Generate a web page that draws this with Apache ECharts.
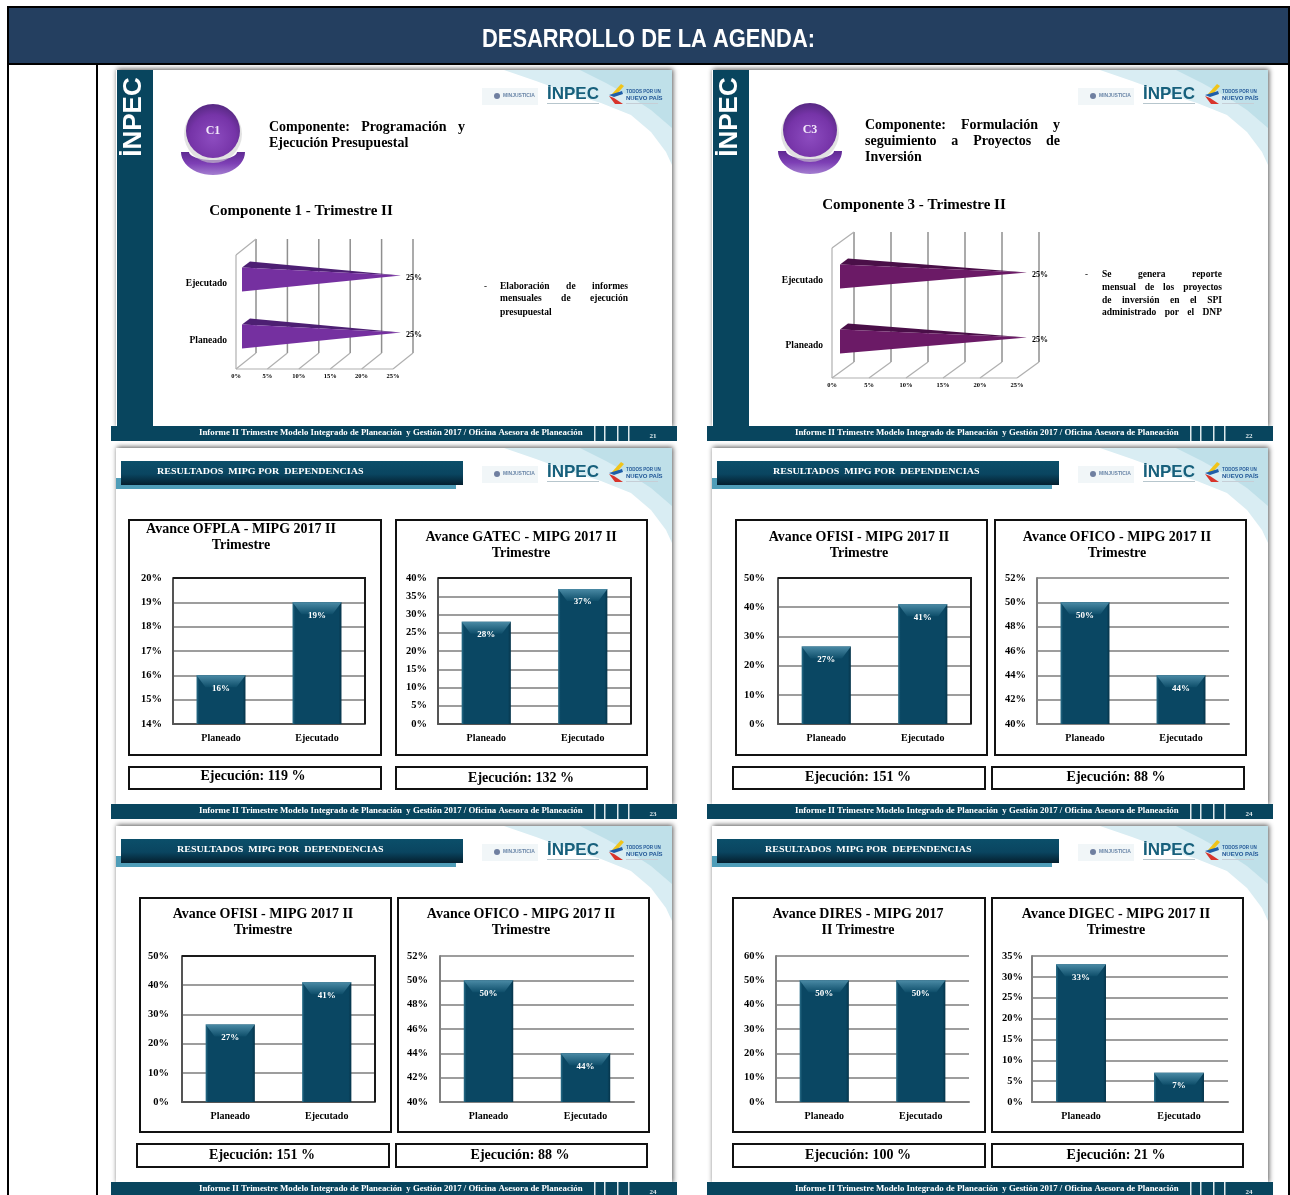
<!DOCTYPE html>
<html>
<head>
<meta charset="utf-8">
<title>Desarrollo de la agenda</title>
<script src="https://cdn.jsdelivr.net/npm/echarts@6/dist/echarts.min.js"></script>
<style>
  html, body { margin: 0; padding: 0; background: #fff; }
  #frame, #slides { position: absolute; left: 0; top: 0; width: 1290px; height: 1195px; }
  /* la referencia es una captura borrosa de diapositivas */
  #slides { filter: blur(0.6px); }
</style>
</head>
<body>
<div id="frame"></div>
<div id="slides"></div>
<script>
const categories = ["Planeado", "Ejecutado"];
const ofplaValues = [16, 19];
const gatecValues = [28, 37];
const ofisiValues = [26.5, 41];
const oficoValues = [50, 44];
const diresValues = [50, 50];
const digecValues = [33, 7];
const comp1Values = [25, 25];
const comp3Values = [25, 25];
const compTicks = [0, 5, 10, 15, 20, 25];

const SERIF = '"Liberation Serif", serif';
const SANS = '"Liberation Sans", sans-serif';
const TEAL = "#08455e";
const INK = "#000";
const FOOTER_TEXT = "Informe II Trimestre Modelo Integrado de Planeación  y Gestión 2017 / Oficina Asesora de Planeación";

let grid = [], xAxis = [], yAxis = [], series = [], els = [];
let measure = document.createElement("canvas").getContext("2d");

function rect(x, y, w, h, style, z) {
  els.push({ type: "rect", z: z || 0, shape: { x: x, y: y, width: w, height: h }, style: style, silent: true });
}
function poly(points, fill, z) {
  els.push({ type: "polygon", z: z || 0, shape: { points: points }, style: { fill: fill }, silent: true });
}
function txt(text, x, y, font, fill, align, rotation, scaleX) {
  els.push({
    type: "text", z: 1, x: x, y: y, rotation: rotation || 0, scaleX: scaleX || 1, silent: true,
    style: { text: text, font: font, fill: fill || INK, textAlign: align || "left", textVerticalAlign: "middle" },
  });
}
// texto justificado: reparte el espacio sobrante entre las palabras
function justify(words, x0, x1, y, font) {
  measure.font = font;
  let widths = words.map((w) => measure.measureText(w).width);
  let total = widths.reduce((a, b) => a + b, 0);
  let gap = (x1 - x0 - total) / (words.length - 1);
  let x = x0;
  words.forEach((w, i) => {
    txt(w, x, y, font);
    x += widths[i] + gap;
  });
}
function box(x0, y0, x1, y1) {
  rect(x0, y0, x1 - x0, y1 - y0, { fill: "#fff", stroke: "#111", lineWidth: 2 });
}

function slideBase(ox, oy, pageNo) {
  rect(ox, oy, 556, 358, { fill: "#fff", shadowBlur: 5, shadowColor: "#555", shadowOffsetX: 1, shadowOffsetY: -1 });
  poly([[ox + 388, oy], [ox + 420, oy + 11], [ox + 450, oy + 22], [ox + 485, oy + 33], [ox + 515, oy + 45], [ox + 535, oy + 62], [ox + 550, oy + 82], [ox + 556, oy + 95], [ox + 556, oy]], "#d9edf3");
  poly([[ox + 464, oy], [ox + 490, oy + 13], [ox + 515, oy + 27], [ox + 535, oy + 40], [ox + 556, oy + 58], [ox + 556, oy]], "#bfe0e9");
  // logos
  rect(ox + 366, oy + 18, 56, 17, { fill: "#f1f6f8" });
  els.push({ type: "circle", shape: { cx: ox + 381, cy: oy + 26, r: 3 }, style: { fill: "#6f7fa0" }, silent: true });
  txt("MINJUSTICIA", ox + 387, oy + 26, "bold 5px " + SANS, "#6a86a8");
  txt("İNPEC", ox + 431, oy + 24, "bold 17px " + SANS, "#17607c");
  rect(ox + 431, oy + 33, 52, 1, { fill: "#b7c6cd" });
  poly([[ox + 505, oy + 14], [ox + 496, oy + 24], [ox + 500, oy + 25], [ox + 508, oy + 16]], "#f0c419", 1);
  poly([[ox + 493, oy + 25], [ox + 506, oy + 21], [ox + 507, oy + 24], [ox + 498, oy + 27]], "#1f5ea8", 1);
  poly([[ox + 493, oy + 26], [ox + 498, oy + 28], [ox + 507, oy + 34], [ox + 499, oy + 34]], "#d8342b", 1);
  txt("TODOS POR UN", ox + 510, oy + 22, "bold 4.5px " + SANS, "#1f5596");
  txt("NUEVO PAÍS", ox + 510, oy + 28, "bold 6px " + SANS, "#1f5596");
  rect(ox + 510, oy + 33, 32, 1, { fill: "#c6ced6" });
  // pie de la diapositiva
  rect(ox - 5, oy + 356, 566, 15, { fill: TEAL }, 1);
  txt(FOOTER_TEXT, ox + 83, oy + 363, "bold 8.8px " + SERIF, "#fff");
  [478, 488, 501, 512].forEach((d) => rect(ox + d, oy + 356, 1.5, 15, { fill: "#dfe9ec" }, 1));
  txt(pageNo, ox + 537, oy + 366, "bold 7px " + SERIF, "#dfe9ec", "center");
}

function sidebar(ox, oy) {
  rect(ox + 1, oy, 36, 357, { fill: TEAL });
  txt("İNPEC", ox + 18, oy + 47, "bold 26px " + SANS, "#fff", "center", Math.PI / 2);
}

function sphere(cx, cy, label) {
  let outer = [], inner = [];
  for (let i = 0; i <= 24; i++) {
    let a = (Math.PI * i) / 24;
    outer.push([cx + 32 * Math.cos(a), cy + 21 + 23 * Math.sin(a)]);
    inner.unshift([cx + 24 * Math.cos(a), cy + 21 + 8 * Math.sin(a)]);
  }
  els.push({
    type: "polygon", silent: true, shape: { points: outer.concat(inner) },
    style: { fill: new echarts.graphic.LinearGradient(0, 0, 0, 1, [{ offset: 0, color: "#5f2a92" }, { offset: 0.5, color: "#7d3fb5" }, { offset: 1, color: "#a47fd0" }]) },
  });
  els.push({ type: "circle", silent: true, shape: { cx: cx, cy: cy + 3, r: 29 }, style: { fill: "#cfcfcf", opacity: 0.6 } });
  els.push({
    type: "circle", silent: true, shape: { cx: cx, cy: cy, r: 27 },
    style: { fill: new echarts.graphic.RadialGradient(0.5, 0.62, 0.6, [{ offset: 0, color: "#8d4cc0" }, { offset: 0.7, color: "#7634a8" }, { offset: 1, color: "#5a2a86" }]) },
  });
  txt(label, cx, cy, "bold 12px " + SERIF, "#f2e9fa", "center");
}

function banner(ox, oy, textX) {
  rect(ox, oy + 30, 340, 11, { fill: "#4f9db8" });
  rect(ox + 5, oy + 13, 342, 24, {
    fill: new echarts.graphic.LinearGradient(0, 0, 0, 1, [{ offset: 0, color: "#0b4f6a" }, { offset: 0.55, color: "#0a4560" }, { offset: 1, color: "#041f2e" }]),
  });
  txt("RESULTADOS  MIPG POR  DEPENDENCIAS", textX, oy + 24, "bold 8.5px " + SERIF, "#fff", "left", 0, 1.18);
}

// panel de barras: marco, titulo, caja de ejecucion y ejes
function barPanel(p) {
  box(p.box[0], p.box[1], p.box[2], p.box[3]);
  box(p.exec[0], p.exec[1], p.exec[2], p.exec[3]);
  p.title.forEach((t, i) => txt(t, p.titleX, p.titleY + i * 16, "bold 14px " + SERIF, INK, "center"));
  txt(p.execText, p.execX, p.execY, "bold 14px " + SERIF, INK, "center");
  let axisColor = p.border ? "#555" : "#808080";
  let idx = grid.length;
  grid.push({ left: p.plot[0], top: p.plot[1], width: p.plot[2] - p.plot[0], height: p.plot[3] - p.plot[1] });
  if (p.border) {
    // borde oscuro superior y derecho del area de trazado
    els.push({
      type: "polyline", z: 6, silent: true,
      shape: { points: [[p.plot[0], p.plot[1]], [p.plot[2], p.plot[1]], [p.plot[2], p.plot[3]]] },
      style: { stroke: "#1a1a1a", lineWidth: 2, fill: "none" },
    });
  }
  xAxis.push({
    type: "category", gridIndex: idx, data: categories,
    axisLine: { lineStyle: { color: axisColor, width: 2 } }, axisTick: { show: false },
    axisLabel: { fontFamily: "Liberation Serif", fontWeight: "bold", fontSize: 10, color: INK, margin: 9 },
  });
  yAxis.push({
    type: "value", gridIndex: idx, min: p.min, max: p.max, interval: p.step,
    axisLine: { show: true, lineStyle: { color: axisColor, width: 2 } }, axisTick: { show: false },
    splitLine: { lineStyle: { color: "#7c7c7c", width: 1.5 } },
    axisLabel: { formatter: "{value}%", fontFamily: "Liberation Serif", fontWeight: "bold", fontSize: 10.5, color: INK, margin: p.margin },
  });
  series.push({
    type: "bar", xAxisIndex: idx, yAxisIndex: idx, data: p.values, barWidth: "51%", z: 3, silent: true,
    itemStyle: {
      color: new echarts.graphic.LinearGradient(0, 0, 1, 0, [
        { offset: 0, color: "#2b6f8a" }, { offset: 0.05, color: "#0a4763" },
        { offset: 0.94, color: "#0a4763" }, { offset: 1, color: "#06344a" },
      ]),
    },
  });
  series.push({
    type: "custom", xAxisIndex: idx, yAxisIndex: idx, z: 4, silent: true, clip: false,
    data: p.values.map((v, i) => [i, v]), encode: { x: 0, y: 1 },
    renderItem: (params, api) => {
      let pt = api.coord([api.value(0), api.value(1)]);
      let w = api.size([1, 0])[0] * 0.51;
      let l = pt[0] - w / 2, r = pt[0] + w / 2, t = pt[1];
      return {
        type: "group",
        children: [
          {
            type: "polygon", shape: { points: [[l, t], [r, t], [r - 9, t + 12], [l + 9, t + 12]] },
            style: { fill: new echarts.graphic.LinearGradient(0, 0, 0, 1, [{ offset: 0, color: "#4a8aa5" }, { offset: 1, color: "#0e4e6a" }]) },
          },
          {
            type: "text",
            style: {
              x: pt[0], y: t + 13, text: Math.round(api.value(1)) + "%", fill: "#fff",
              font: "bold 9px " + SERIF, textAlign: "center", textVerticalAlign: "middle",
            },
          },
        ],
      };
    },
  });
}

// grafico de cuñas horizontales con pared y piso en perspectiva
function wedgePanel(p) {
  let idx = grid.length;
  grid.push({ left: p.plot[0], top: p.plot[1], width: p.plot[2] - p.plot[0], height: p.plot[3] - p.plot[1] });
  xAxis.push({
    type: "value", gridIndex: idx, min: 0, max: 25, interval: 5,
    axisLine: { show: false }, axisTick: { show: false }, splitLine: { show: false },
    axisLabel: { formatter: "{value}%", fontFamily: "Liberation Serif", fontWeight: "bold", fontSize: 6.5, color: INK, margin: 4 },
  });
  yAxis.push({
    type: "category", gridIndex: idx, data: categories,
    axisLine: { show: false }, axisTick: { show: false },
    axisLabel: { fontFamily: "Liberation Serif", fontWeight: "bold", fontSize: 9.5, color: INK, margin: 9 },
  });
  series.push({
    type: "custom", xAxisIndex: idx, yAxisIndex: idx, z: 2, silent: true, clip: false,
    data: compTicks.map((t) => [t, 0]), encode: { x: 0, y: 1 },
    renderItem: (params, api) => {
      let v = api.value(0);
      let x = api.coord([v, 0])[0];
      let top = p.plot[1], bottom = p.plot[3], dx = p.depth[0], dy = p.depth[1];
      let wall = { stroke: "#8f8f8f", lineWidth: 1.5 };
      let floor = { stroke: "#b0b0b0", lineWidth: 1.2 };
      let children = [
        { type: "line", shape: { x1: x + dx, y1: top - dy, x2: x + dx, y2: bottom - dy }, style: wall },
        { type: "line", shape: { x1: x, y1: bottom, x2: x + dx, y2: bottom - dy }, style: floor },
      ];
      if (v === 0) {
        children.push({ type: "line", shape: { x1: x, y1: top, x2: x, y2: bottom }, style: floor });
        children.push({ type: "line", shape: { x1: x, y1: top, x2: x + dx, y2: top - dy }, style: floor });
        children.push({ type: "line", shape: { x1: x, y1: bottom, x2: p.plot[2], y2: bottom }, style: floor });
      }
      return { type: "group", children: children };
    },
  });
  series.push({
    type: "custom", xAxisIndex: idx, yAxisIndex: idx, z: 3, silent: true, clip: false,
    data: p.values.map((v, i) => [v, i]), encode: { x: 0, y: 1 },
    renderItem: (params, api) => {
      let tipPt = api.coord([api.value(0), api.value(1)]);
      let basePt = api.coord([0, api.value(1)]);
      let c = basePt[1], bx = basePt[0] + p.baseOff, tip = tipPt[0] + p.baseOff + 2;
      return {
        type: "group",
        children: [
          { type: "polygon", shape: { points: [[bx, c - 16], [bx + 8, c - 22], [tip, c - 8]] }, style: { fill: p.dark } },
          { type: "polygon", shape: { points: [[bx, c - 16], [bx, c + 8], [tip, c - 8]] }, style: { fill: p.light } },
          {
            type: "text",
            style: {
              x: tip + 13, y: c - 6, text: api.value(0) + "%", fill: INK,
              font: "bold 8px " + SERIF, textAlign: "center", textVerticalAlign: "middle",
            },
          },
        ],
      };
    },
  });
}

const L = 116, R = 712, R1 = 70, R2 = 448, R3 = 826;

let frameChart = echarts.init(document.getElementById("frame"));
frameChart.setOption({
  animation: false,
  backgroundColor: "#fff",
  graphic: {
    elements: [
      { type: "rect", shape: { x: 8, y: 7, width: 1281, height: 57 }, style: { fill: "#243f60", stroke: "#000", lineWidth: 2 } },
      { type: "line", shape: { x1: 8, y1: 64, x2: 8, y2: 1195 }, style: { stroke: "#000", lineWidth: 2 } },
      { type: "line", shape: { x1: 97, y1: 64, x2: 97, y2: 1195 }, style: { stroke: "#000", lineWidth: 2 } },
      { type: "line", shape: { x1: 1289, y1: 64, x2: 1289, y2: 1195 }, style: { stroke: "#000", lineWidth: 2 } },
      {
        type: "text", x: 648.5, y: 40, scaleX: 0.875,
        style: { text: "DESARROLLO DE LA AGENDA:", font: 'bold 25px "Liberation Sans", sans-serif', fill: "#fff", textAlign: "center", textVerticalAlign: "middle" },
      },
    ],
  },
});

// fila 1
slideBase(L, R1, "21");
sidebar(L, R1);
sphere(213, 131, "C1");
justify(["Componente:", "Programación", "y"], 269, 465, 127, "bold 14px " + SERIF);
txt("Ejecución Presupuestal", 269, 143, "bold 14px " + SERIF);
txt("Componente 1 - Trimestre II", 301, 211, "bold 15px " + SERIF, INK, "center");
wedgePanel({ plot: [236, 255, 393, 369], depth: [20, 16], baseOff: 6, values: comp1Values, light: "#7530a0", dark: "#4d1f73" });
txt("-", 484, 287, "bold 9px " + SERIF);
justify(["Elaboración", "de", "informes"], 500, 628, 287, "bold 9.5px " + SERIF);
justify(["mensuales", "de", "ejecución"], 500, 628, 299, "bold 9.5px " + SERIF);
txt("presupuestal", 500, 313, "bold 9.5px " + SERIF);

slideBase(R, R1, "22");
sidebar(R, R1);
sphere(810, 130, "C3");
justify(["Componente:", "Formulación", "y"], 865, 1060, 125, "bold 14px " + SERIF);
justify(["seguimiento", "a", "Proyectos", "de"], 865, 1060, 141, "bold 14px " + SERIF);
txt("Inversión", 865, 157, "bold 14px " + SERIF);
txt("Componente 3 - Trimestre II", 914, 205, "bold 15px " + SERIF, INK, "center");
wedgePanel({ plot: [832, 248, 1017, 378], depth: [22, 16], baseOff: 8, values: comp3Values, light: "#6b1a66", dark: "#4a0f48" });
txt("-", 1085, 275, "bold 9px " + SERIF);
justify(["Se", "genera", "reporte"], 1102, 1222, 275, "bold 9.5px " + SERIF);
justify(["mensual", "de", "los", "proyectos"], 1102, 1222, 288, "bold 9.5px " + SERIF);
justify(["de", "inversión", "en", "el", "SPI"], 1102, 1222, 301, "bold 9.5px " + SERIF);
justify(["administrado", "por", "el", "DNP"], 1102, 1222, 313, "bold 9.5px " + SERIF);

// fila 2
slideBase(L, R2, "23");
banner(L, R2, 157);
barPanel({
  box: [129, 520, 381, 755], exec: [129, 767, 381, 789], plot: [173, 578, 365, 724], border: true, margin: 11,
  min: 14, max: 20, step: 1, values: ofplaValues,
  title: ["Avance OFPLA - MIPG 2017 II", "Trimestre"], titleX: 241, titleY: 529,
  execText: "Ejecución: 119 %", execX: 253, execY: 776,
});
barPanel({
  box: [396, 520, 647, 755], exec: [396, 767, 647, 789], plot: [438, 578, 631, 724], border: true, margin: 11,
  min: 0, max: 40, step: 5, values: gatecValues,
  title: ["Avance GATEC - MIPG 2017 II", "Trimestre"], titleX: 521, titleY: 537,
  execText: "Ejecución: 132 %", execX: 521, execY: 778,
});

slideBase(R, R2, "24");
banner(R, R2, 773);
barPanel({
  box: [736, 520, 987, 755], exec: [733, 767, 985, 789], plot: [778, 578, 971, 724], border: true, margin: 13,
  min: 0, max: 50, step: 10, values: ofisiValues,
  title: ["Avance OFISI - MIPG 2017 II", "Trimestre"], titleX: 859, titleY: 537,
  execText: "Ejecución: 151 %", execX: 858, execY: 777,
});
barPanel({
  box: [995, 520, 1246, 755], exec: [992, 767, 1244, 789], plot: [1037, 578, 1229, 724], margin: 11,
  min: 40, max: 52, step: 2, values: oficoValues,
  title: ["Avance OFICO - MIPG 2017 II", "Trimestre"], titleX: 1117, titleY: 537,
  execText: "Ejecución: 88 %", execX: 1116, execY: 777,
});

// fila 3
slideBase(L, R3, "24");
banner(L, R3, 177);
barPanel({
  box: [140, 898, 391, 1132], exec: [137, 1144, 389, 1167], plot: [182, 956, 375, 1102], border: true, margin: 13,
  min: 0, max: 50, step: 10, values: ofisiValues,
  title: ["Avance OFISI - MIPG 2017 II", "Trimestre"], titleX: 263, titleY: 914,
  execText: "Ejecución: 151 %", execX: 262, execY: 1155,
});
barPanel({
  box: [398, 898, 649, 1132], exec: [396, 1144, 647, 1167], plot: [440, 956, 634, 1102], margin: 12,
  min: 40, max: 52, step: 2, values: oficoValues,
  title: ["Avance OFICO - MIPG 2017 II", "Trimestre"], titleX: 521, titleY: 914,
  execText: "Ejecución: 88 %", execX: 520, execY: 1155,
});

slideBase(R, R3, "24");
banner(R, R3, 765);
barPanel({
  box: [733, 898, 985, 1132], exec: [733, 1144, 985, 1167], plot: [776, 956, 969, 1102], margin: 11,
  min: 0, max: 60, step: 10, values: diresValues,
  title: ["Avance DIRES - MIPG 2017", "II Trimestre"], titleX: 858, titleY: 914,
  execText: "Ejecución: 100 %", execX: 858, execY: 1155,
});
barPanel({
  box: [992, 898, 1243, 1132], exec: [992, 1144, 1243, 1167], plot: [1032, 956, 1228, 1102], margin: 9,
  min: 0, max: 35, step: 5, values: digecValues,
  title: ["Avance DIGEC - MIPG 2017 II", "Trimestre"], titleX: 1116, titleY: 914,
  execText: "Ejecución: 21 %", execX: 1116, execY: 1155,
});

let slidesChart = echarts.init(document.getElementById("slides"));
slidesChart.setOption({
  animation: false,
  backgroundColor: "transparent",
  graphic: { elements: els },
  grid: grid,
  xAxis: xAxis,
  yAxis: yAxis,
  series: series,
});
</script>
</body>
</html>
